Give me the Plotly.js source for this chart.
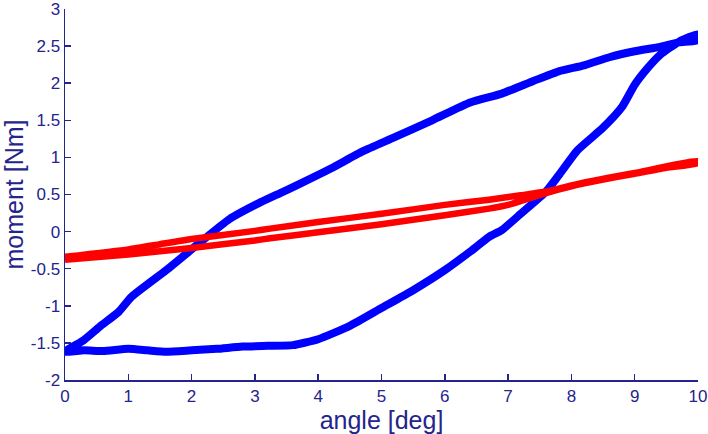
<!DOCTYPE html>
<html>
<head>
<meta charset="utf-8">
<script src="https://cdn.plot.ly/plotly-3.0.1.min.js"></script>
<style>
  html, body { margin: 0; padding: 0; background: #fff; }
  #chart { width: 708px; height: 434px; }
</style>
</head>
<body>
<div id="chart"></div>
<script>
// blue loop: loading branch (x up), then unloading branch (x down)
const blueX = [0.0, 0.3, 0.6, 1.0, 1.3, 1.6, 2.0, 2.4, 2.8, 3.2, 3.6, 4.0, 4.5, 5.0, 5.5, 6.0, 6.4, 6.7, 6.9, 7.2, 7.6, 7.8, 8.1, 8.5, 8.8, 9.0, 9.2, 9.4, 9.7, 10.0,
               10.0, 9.7, 9.4, 9.0, 8.6, 8.2, 7.8, 7.4, 6.9, 6.4, 5.8, 5.2, 4.7, 4.2, 3.7, 3.4, 3.1, 2.6, 2.1, 1.6, 1.05, 0.85, 0.55, 0.3, 0.0];
const blueY = [-1.62, -1.60, -1.61, -1.58, -1.60, -1.62, -1.60, -1.58, -1.55, -1.54, -1.53, -1.45, -1.27, -1.03, -0.79, -0.52, -0.27, -0.07, 0.02, 0.24, 0.54, 0.76, 1.10, 1.40, 1.68, 1.98, 2.20, 2.38, 2.56, 2.66,
               2.58, 2.55, 2.49, 2.43, 2.35, 2.24, 2.16, 2.03, 1.86, 1.74, 1.50, 1.27, 1.08, 0.85, 0.64, 0.52, 0.40, 0.17, -0.17, -0.52, -0.88, -1.08, -1.28, -1.46, -1.62];

// red loop
const redX = [0, 1, 2, 3, 3.24, 4, 5, 6, 6.7, 7, 7.6, 8, 8.5, 9, 9.5, 10,
              10, 9, 8.14, 7.6, 7.2, 6.7, 6, 5, 4, 3.24, 3, 2, 1.5, 1, 0];
const redY = [-0.38, -0.31, -0.22, -0.12, -0.09, -0.01, 0.10, 0.22, 0.31, 0.36, 0.52, 0.61, 0.70, 0.78, 0.86, 0.92,
              0.95, 0.79, 0.65, 0.54, 0.49, 0.43, 0.36, 0.24, 0.13, 0.04, 0.01, -0.10, -0.17, -0.24, -0.34];

const xTicks = [0, 1, 2, 3, 4, 5, 6, 7, 8, 9, 10];
const yTicks = [-2, -1.5, -1, -0.5, 0, 0.5, 1, 1.5, 2, 2.5, 3];
const yTickText = ['-2', '-1.5', '-1', '-0.5', '0', '0.5', '1', '1.5', '2', '2.5', '3'];

const navy = '#24248c';
const font = 'Arial, Liberation Sans, Helvetica, sans-serif';

const traces = [
  {
    x: blueX, y: blueY,
    mode: 'lines',
    line: { color: '#0000ff', width: 8, shape: 'spline', smoothing: 0.5 },
    hoverinfo: 'skip'
  },
  {
    x: redX, y: redY,
    mode: 'lines',
    line: { color: '#ff0000', width: 6.5, shape: 'spline', smoothing: 0.5 },
    hoverinfo: 'skip'
  }
];

const axisBase = {
  showgrid: false,
  zeroline: false,
  showline: true,
  linecolor: navy,
  linewidth: 1.5,
  mirror: false,
  ticks: 'inside',
  ticklen: 6,
  tickwidth: 1.5,
  tickcolor: navy,
  tickfont: { family: font, size: 17, color: navy },
  ticklabeloverflow: 'allow',
  automargin: false
};

Plotly.newPlot('chart', traces, {
  width: 708,
  height: 434,
  margin: { l: 65, r: 10, t: 9, b: 54 },
  paper_bgcolor: '#ffffff',
  plot_bgcolor: '#ffffff',
  showlegend: false,
  xaxis: Object.assign({}, axisBase, {
    range: [0, 10],
    tickvals: xTicks,
    title: { text: 'angle [deg]', font: { family: font, size: 25, color: navy }, standoff: 4 }
  }),
  yaxis: Object.assign({}, axisBase, {
    range: [-2, 3],
    tickvals: yTicks,
    ticktext: yTickText,
    title: { text: 'moment [Nm]', font: { family: font, size: 25, color: navy }, standoff: 4 }
  })
}, { staticPlot: true });
</script>
</body>
</html>
